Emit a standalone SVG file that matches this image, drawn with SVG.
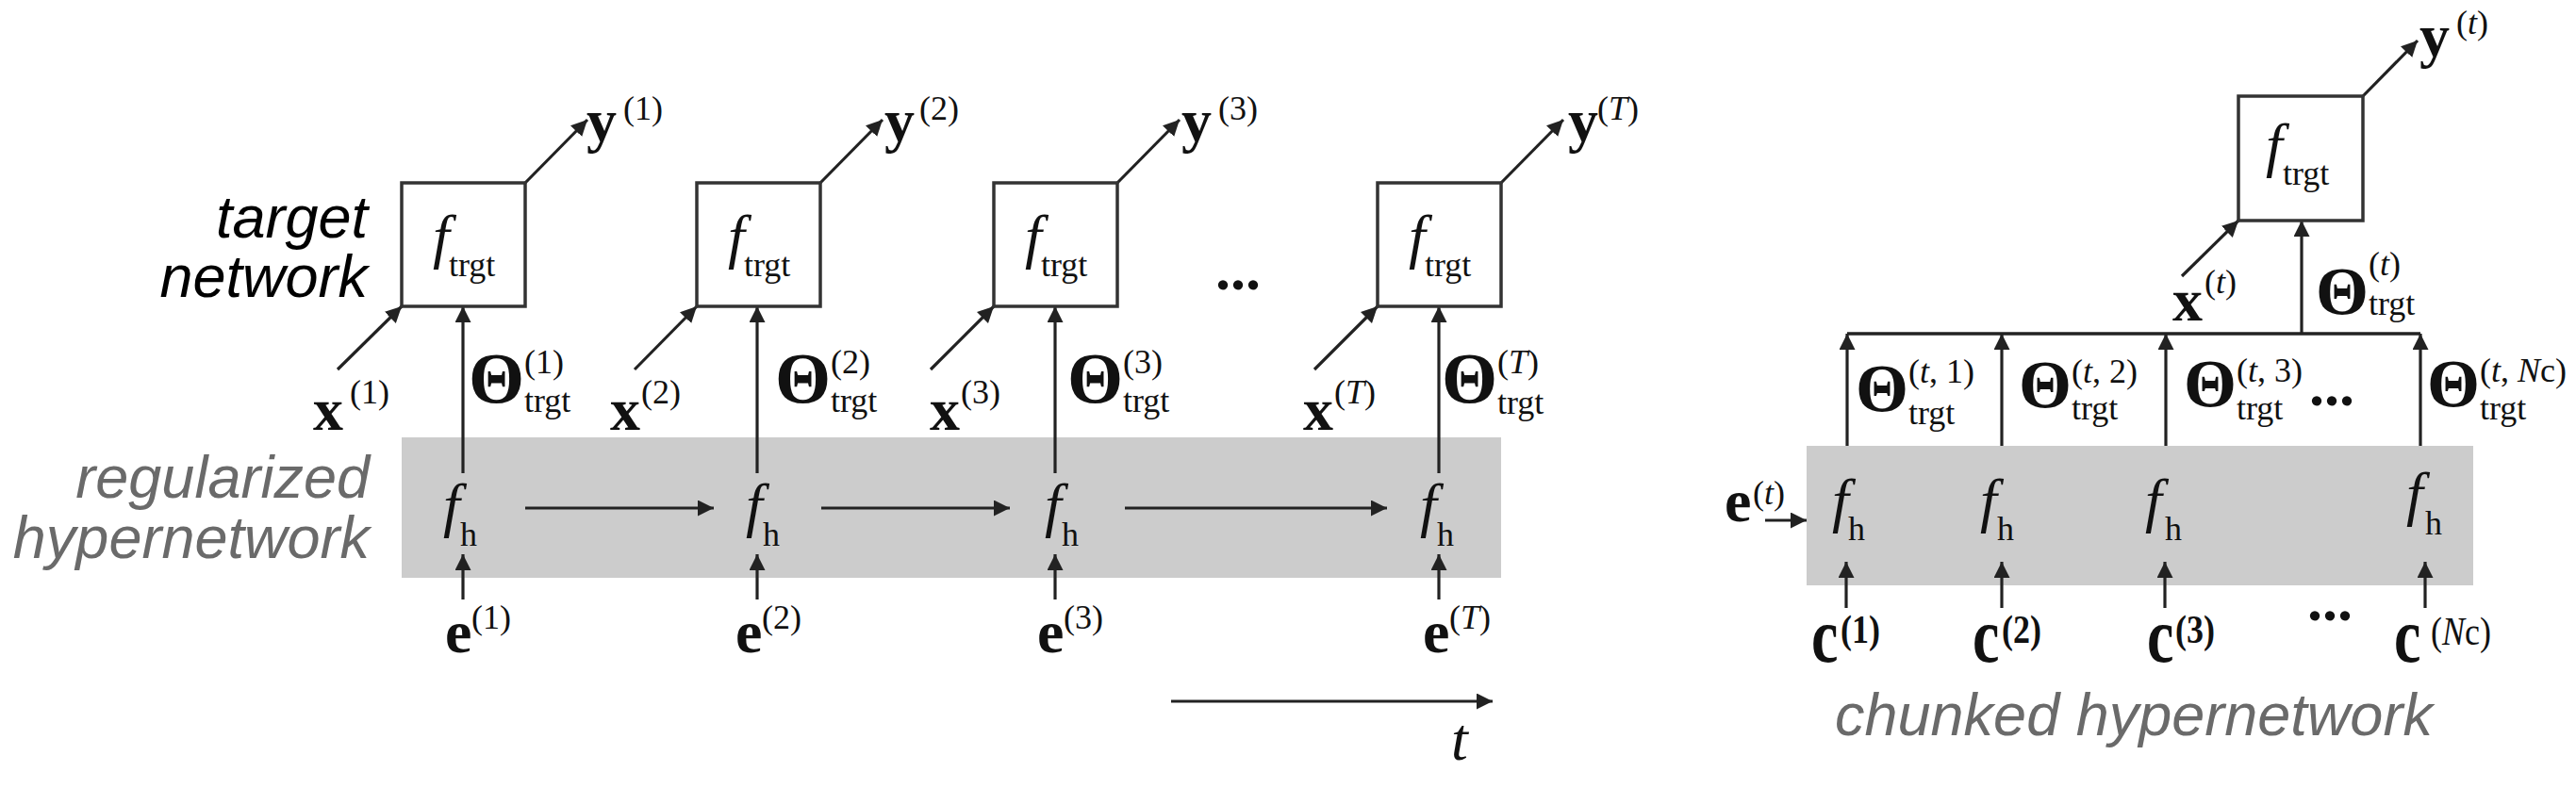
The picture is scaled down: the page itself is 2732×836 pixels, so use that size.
<svg xmlns="http://www.w3.org/2000/svg" width="2732" height="836" viewBox="0 0 2732 836">
<style>
.bm{font-family:"Liberation Serif","Times New Roman",serif;font-weight:bold;font-size:64px;fill:#111}
.th{font-family:"Liberation Serif","Times New Roman",serif;font-weight:bold;font-size:76px;fill:#111}
.thr{font-family:"Liberation Serif","Times New Roman",serif;font-weight:bold;font-size:72px;fill:#111}
.fi{font-family:"Liberation Serif","Times New Roman",serif;font-style:italic;font-size:64px;fill:#111}
.sb{font-family:"Liberation Serif","Times New Roman",serif;font-size:36px;fill:#111}
.sbb{font-family:"Liberation Serif","Times New Roman",serif;font-size:36px;font-weight:bold;fill:#111}
.i{font-style:italic}
.lab{font-family:"Liberation Sans",Arial,sans-serif;font-style:italic;font-size:63px}
.box{fill:#fff;stroke:#333;stroke-width:3.5}
.band{fill:#cccccc}
.ln{stroke:#222;stroke-width:3.5;fill:none}
.ar{stroke:#222;stroke-width:3.2;fill:none;marker-end:url(#ah)}
</style>
<defs>
<marker id="ah" markerUnits="userSpaceOnUse" markerWidth="17" markerHeight="17" viewBox="0 0 17 17" refX="17" refY="8.5" orient="auto">
<path d="M0,0 L17,8.5 L0,17 z" fill="#222"/>
</marker>
</defs>
<rect width="2732" height="836" fill="#fff"/>

<!-- bands -->
<rect id="band-left" class="band" x="426" y="464" width="1166" height="149"/>
<rect id="band-right" class="band" x="1916" y="473" width="707" height="148"/>

<!-- side labels -->
<g id="label-target">
<text class="lab" x="390" y="252" text-anchor="end" fill="#000">target</text>
<text class="lab" x="390" y="315" text-anchor="end" fill="#000">network</text>
</g>
<g id="label-regularized">
<text class="lab" x="392" y="528" text-anchor="end" fill="#6a6a6a">regularized</text>
<text class="lab" x="392" y="592" text-anchor="end" fill="#6a6a6a">hypernetwork</text>
</g>
<g id="label-chunked">
<text class="lab" x="1946" y="780" fill="#6a6a6a">chunked hypernetwork</text>
</g>

<!-- connectors -->
<g id="connectors">
<line class="ar" x1="358" y1="392" x2="426" y2="325"/>
<line class="ar" x1="673" y1="392" x2="739" y2="325"/>
<line class="ar" x1="987" y1="392" x2="1054" y2="325"/>
<line class="ar" x1="1394" y1="392" x2="1461" y2="325"/>
<line class="ar" x1="557" y1="194" x2="623" y2="127"/>
<line class="ar" x1="870" y1="194" x2="936" y2="127"/>
<line class="ar" x1="1185" y1="194" x2="1251" y2="127"/>
<line class="ar" x1="1592" y1="194" x2="1658" y2="127"/>
<line class="ar" x1="491" y1="502" x2="491" y2="325"/>
<line class="ar" x1="803" y1="502" x2="803" y2="325"/>
<line class="ar" x1="1119" y1="502" x2="1119" y2="325"/>
<line class="ar" x1="1526" y1="502" x2="1526" y2="325"/>
<line class="ar" x1="491" y1="636" x2="491" y2="588"/>
<line class="ar" x1="803" y1="636" x2="803" y2="588"/>
<line class="ar" x1="1119" y1="636" x2="1119" y2="588"/>
<line class="ar" x1="1526" y1="636" x2="1526" y2="588"/>
<line class="ar" x1="557" y1="539" x2="757" y2="539"/>
<line class="ar" x1="871" y1="539" x2="1071" y2="539"/>
<line class="ar" x1="1193" y1="539" x2="1471" y2="539"/>
<line class="ar" x1="1242" y1="744" x2="1583" y2="744"/>
<line class="ar" x1="2506" y1="102" x2="2564" y2="43"/>
<line class="ar" x1="2314" y1="293" x2="2374" y2="234"/>
<line class="ar" x1="2441" y1="354" x2="2441" y2="234"/>
<line class="ln" x1="1959" y1="354" x2="2567" y2="354"/>
<line class="ar" x1="1959" y1="473" x2="1959" y2="354"/>
<line class="ar" x1="2123" y1="473" x2="2123" y2="354"/>
<line class="ar" x1="2297" y1="473" x2="2297" y2="354"/>
<line class="ar" x1="2567" y1="473" x2="2567" y2="354"/>
<line class="ar" x1="1872" y1="552" x2="1916" y2="552"/>
<line class="ar" x1="1958" y1="645" x2="1958" y2="596"/>
<line class="ar" x1="2123" y1="645" x2="2123" y2="596"/>
<line class="ar" x1="2296" y1="645" x2="2296" y2="596"/>
<line class="ar" x1="2572" y1="645" x2="2572" y2="596"/>
</g>

<!-- left target boxes -->
<g id="ftrgt-1"><rect class="box" x="426" y="194" width="131" height="131"/><text class="fi" x="459" y="272">f</text><text class="sb" x="476" y="293">trgt</text></g>
<g id="ftrgt-2"><rect class="box" x="739" y="194" width="131" height="131"/><text class="fi" x="772" y="272">f</text><text class="sb" x="789" y="293">trgt</text></g>
<g id="ftrgt-3"><rect class="box" x="1054" y="194" width="131" height="131"/><text class="fi" x="1087" y="272">f</text><text class="sb" x="1104" y="293">trgt</text></g>
<g id="ftrgt-T"><rect class="box" x="1461" y="194" width="131" height="131"/><text class="fi" x="1494" y="272">f</text><text class="sb" x="1511" y="293">trgt</text></g>

<!-- y outputs -->
<g id="y-1"><text class="bm" x="622" y="149">y</text><text class="sb" x="661" y="127">(1)</text></g>
<g id="y-2"><text class="bm" x="938" y="149">y</text><text class="sb" x="975" y="127">(2)</text></g>
<g id="y-3"><text class="bm" x="1253" y="149">y</text><text class="sb" x="1292" y="127">(3)</text></g>
<g id="y-T"><text class="bm" x="1663" y="149">y</text><text class="sb" x="1694" y="127">(<tspan class="i">T</tspan>)</text></g>

<!-- x inputs -->
<g id="x-1"><text class="bm" x="332" y="456">x</text><text class="sb" x="371" y="428">(1)</text></g>
<g id="x-2"><text class="bm" x="647" y="456">x</text><text class="sb" x="680" y="428">(2)</text></g>
<g id="x-3"><text class="bm" x="986" y="456">x</text><text class="sb" x="1019" y="428">(3)</text></g>
<g id="x-T"><text class="bm" x="1382" y="456">x</text><text class="sb" x="1415" y="428">(<tspan class="i">T</tspan>)</text></g>

<!-- theta labels -->
<g id="theta-1"><text class="th" x="497" y="427">Θ</text><text class="sb" x="556" y="396">(1)</text><text class="sb" x="556" y="437">trgt</text></g>
<g id="theta-2"><text class="th" x="822" y="427">Θ</text><text class="sb" x="881" y="396">(2)</text><text class="sb" x="881" y="437">trgt</text></g>
<g id="theta-3"><text class="th" x="1132" y="427">Θ</text><text class="sb" x="1191" y="396">(3)</text><text class="sb" x="1191" y="437">trgt</text></g>
<g id="theta-T"><text class="th" x="1529" y="427">Θ</text><text class="sb" x="1588" y="396">(<tspan class="i">T</tspan>)</text><text class="sb" x="1588" y="439">trgt</text></g>

<text id="dots-left" class="bm" x="1289" y="307">...</text>

<!-- hypernetwork nodes -->
<g id="fh-1"><text class="fi" x="470" y="557">f</text><text class="sb" x="488" y="579">h</text></g>
<g id="fh-2"><text class="fi" x="791" y="557">f</text><text class="sb" x="809" y="579">h</text></g>
<g id="fh-3"><text class="fi" x="1108" y="557">f</text><text class="sb" x="1126" y="579">h</text></g>
<g id="fh-T"><text class="fi" x="1506" y="557">f</text><text class="sb" x="1524" y="579">h</text></g>

<!-- e inputs -->
<g id="e-1"><text class="bm" x="472" y="692">e</text><text class="sb" x="500" y="667">(1)</text></g>
<g id="e-2"><text class="bm" x="780" y="692">e</text><text class="sb" x="808" y="667">(2)</text></g>
<g id="e-3"><text class="bm" x="1100" y="692">e</text><text class="sb" x="1128" y="667">(3)</text></g>
<g id="e-T"><text class="bm" x="1509" y="692">e</text><text class="sb" x="1537" y="667">(<tspan class="i">T</tspan>)</text></g>

<text id="t-label" class="fi" x="1539" y="806" font-size="60">t</text>

<!-- right: target -->
<g id="ftrgt-t"><rect class="box" x="2374" y="102" width="132" height="132"/><text class="fi" x="2403" y="175">f</text><text class="sb" x="2421" y="196">trgt</text></g>
<g id="y-t"><text class="bm" x="2566" y="59">y</text><text class="sb" x="2605" y="36">(<tspan class="i">t</tspan>)</text></g>
<g id="x-t"><text class="bm" x="2304" y="340">x</text><text class="sb" x="2338" y="311">(<tspan class="i">t</tspan>)</text></g>
<g id="theta-t"><text class="thr" x="2456" y="333">Θ</text><text class="sb" x="2512" y="292">(<tspan class="i">t</tspan>)</text><text class="sb" x="2512" y="334">trgt</text></g>

<!-- right: chunk thetas -->
<g id="theta-t1"><text class="thr" x="1968" y="436">Θ</text><text class="sb" x="2024" y="406">(<tspan class="i">t</tspan>, 1)</text><text class="sb" x="2024" y="450">trgt</text></g>
<g id="theta-t2"><text class="thr" x="2141" y="432">Θ</text><text class="sb" x="2197" y="406">(<tspan class="i">t</tspan>, 2)</text><text class="sb" x="2197" y="445">trgt</text></g>
<g id="theta-t3"><text class="thr" x="2316" y="431">Θ</text><text class="sb" x="2372" y="405">(<tspan class="i">t</tspan>, 3)</text><text class="sb" x="2372" y="445">trgt</text></g>
<g id="theta-tNc"><text class="thr" x="2574" y="431">Θ</text><text class="sb" x="2630" y="405">(<tspan class="i">t</tspan>, <tspan class="i">N</tspan>c)</text><text class="sb" x="2630" y="445">trgt</text></g>
<text id="dots-right-top" class="bm" x="2449" y="430">...</text>

<!-- right: chunked hypernetwork -->
<g id="e-t"><text class="bm" x="1829" y="553">e</text><text class="sb" x="1859" y="535">(<tspan class="i">t</tspan>)</text></g>
<g id="fhc-1"><text class="fi" x="1943" y="552">f</text><text class="sb" x="1960" y="573">h</text></g>
<g id="fhc-2"><text class="fi" x="2100" y="552">f</text><text class="sb" x="2118" y="573">h</text></g>
<g id="fhc-3"><text class="fi" x="2275" y="552">f</text><text class="sb" x="2296" y="573">h</text></g>
<g id="fhc-Nc"><text class="fi" x="2552" y="545">f</text><text class="sb" x="2572" y="567">h</text></g>

<g id="c-1"><text class="bm" font-size="70" transform="translate(1921,702) scale(1,1.3)">c</text><text class="sbb" transform="translate(1952,682) scale(1,1.15)">(1)</text></g>
<g id="c-2"><text class="bm" font-size="70" transform="translate(2092,702) scale(1,1.3)">c</text><text class="sbb" transform="translate(2123,682) scale(1,1.15)">(2)</text></g>
<g id="c-3"><text class="bm" font-size="70" transform="translate(2277,702) scale(1,1.3)">c</text><text class="sbb" transform="translate(2307,682) scale(1,1.15)">(3)</text></g>
<g id="c-Nc"><text class="bm" font-size="70" transform="translate(2539,702) scale(1,1.3)">c</text><text class="sb" font-size="32" transform="translate(2578,684) scale(1,1.15)">(<tspan class="i">N</tspan>c)</text></g>
<text id="dots-right-bottom" class="bm" x="2447" y="658">...</text>
</svg>
